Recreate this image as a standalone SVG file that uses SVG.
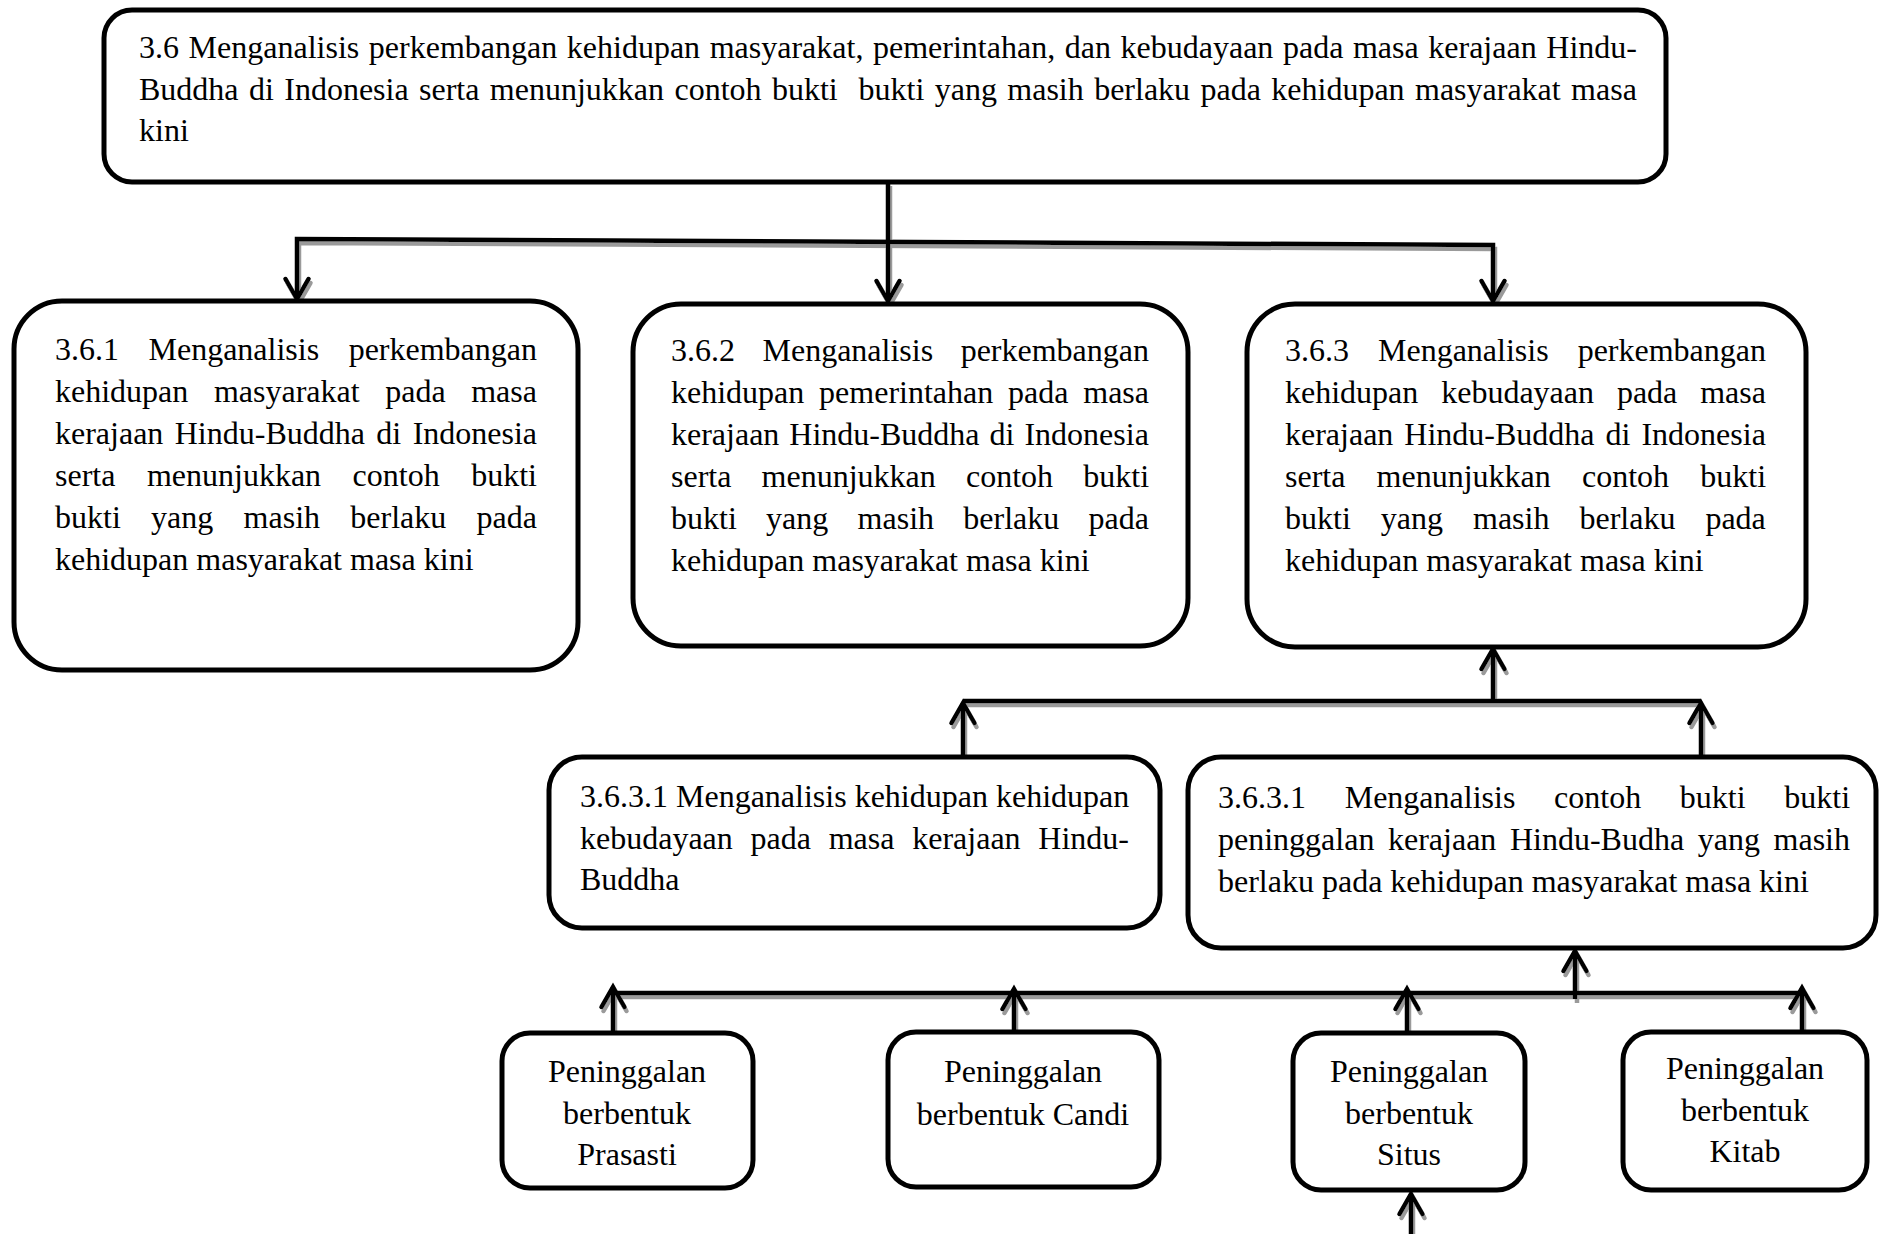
<svg xmlns="http://www.w3.org/2000/svg" width="1880" height="1234" viewBox="0 0 1880 1234">
  <style>
    .box { fill: #fff; stroke: #000; stroke-width: 5; }
    .t { font-family: "Liberation Serif", "Times New Roman", serif; font-size: 32px; fill: #000; }
    .c { text-anchor: middle; }
    .wire { fill: none; stroke: #000; stroke-width: 4.5; }
  </style>
  <defs>
    <!-- open chevron arrowhead, pointing along the path direction -->
    <marker id="head" markerUnits="userSpaceOnUse" viewBox="-26 -16 30 32" refX="0" refY="0"
            markerWidth="30" markerHeight="32" orient="auto-start-reverse" overflow="visible">
      <path d="M-20,-11.5 L0,0 L-20,11.5" fill="none" stroke="#000" stroke-width="4.5"
            stroke-linecap="round" stroke-linejoin="miter"/>
    </marker>
    <!-- soft grey offset shadow under the connector lines -->
    <filter id="shadow" filterUnits="userSpaceOnUse" x="0" y="0" width="1880" height="1234">
      <feOffset in="SourceAlpha" dx="2" dy="4" result="off"/>
      <feFlood flood-color="#9a9a9a"/>
      <feComposite in2="off" operator="in" result="sh"/>
      <feMerge>
        <feMergeNode in="sh"/>
        <feMergeNode in="SourceGraphic"/>
      </feMerge>
    </filter>
  </defs>

  <rect width="1880" height="1234" fill="#fff"/>

  <g id="connectors" filter="url(#shadow)">
    <!-- 3.6 to its three sub-goals -->
    <path class="wire" d="M888,182 L888,301" marker-end="url(#head)"/>
    <path class="wire" d="M297,299 L297,239 L1493,245 L1493,301" marker-start="url(#head)" marker-end="url(#head)"/>
    <!-- 3.6.3.1 pair up to 3.6.3 -->
    <path class="wire" d="M963,701 L1701,701"/>
    <path class="wire" d="M1493,701 L1493,649" marker-end="url(#head)"/>
    <path class="wire" d="M963,757 L963,703" marker-end="url(#head)"/>
    <path class="wire" d="M1701,757 L1701,703" marker-end="url(#head)"/>
    <!-- peninggalan boxes up to the right 3.6.3.1 -->
    <path class="wire" d="M613,993 L1802,993"/>
    <path class="wire" d="M1575,999 L1575,951" marker-end="url(#head)"/>
    <path class="wire" d="M613,1033 L613,987" marker-end="url(#head)"/>
    <path class="wire" d="M1014,1032 L1014,989" marker-end="url(#head)"/>
    <path class="wire" d="M1407,1033 L1407,989" marker-end="url(#head)"/>
    <path class="wire" d="M1802,1032 L1802,988" marker-end="url(#head)"/>
    <path class="wire" d="M1411,1234 L1411,1194" marker-end="url(#head)"/>
  </g>

  <g id="node-3-6">
    <rect class="box" x="104" y="10" width="1562" height="172" rx="28"/>
    <text class="t" x="139" y="58" word-spacing="1.6">3.6 Menganalisis perkembangan kehidupan masyarakat, pemerintahan, dan kebudayaan pada masa kerajaan Hindu-</text>
    <text class="t" x="139" y="100" word-spacing="2.4">Buddha di Indonesia serta menunjukkan contoh bukti&#160; bukti yang masih berlaku pada kehidupan masyarakat masa</text>
    <text class="t" x="139" y="141">kini</text>
  </g>

  <g id="node-3-6-1">
    <rect class="box" x="14" y="301" width="564" height="369" rx="48"/>
    <text class="t" x="55" y="360" word-spacing="21.5">3.6.1 Menganalisis perkembangan</text>
    <text class="t" x="55" y="402" word-spacing="17.6">kehidupan masyarakat pada masa</text>
    <text class="t" x="55" y="444" word-spacing="3.4">kerajaan Hindu-Buddha di Indonesia</text>
    <text class="t" x="55" y="486" word-spacing="23.5">serta menunjukkan contoh bukti</text>
    <text class="t" x="55" y="528" word-spacing="22.3">bukti yang masih berlaku pada</text>
    <text class="t" x="55" y="570">kehidupan masyarakat masa kini</text>
  </g>

  <g id="node-3-6-2">
    <rect class="box" x="633" y="304" width="555" height="342" rx="48"/>
    <text class="t" x="671" y="361" word-spacing="19.5">3.6.2 Menganalisis perkembangan</text>
    <text class="t" x="671" y="403" word-spacing="6.8">kehidupan pemerintahan pada masa</text>
    <text class="t" x="671" y="445" word-spacing="2">kerajaan Hindu-Buddha di Indonesia</text>
    <text class="t" x="671" y="487" word-spacing="22.2">serta menunjukkan contoh bukti</text>
    <text class="t" x="671" y="529" word-spacing="21.3">bukti yang masih berlaku pada</text>
    <text class="t" x="671" y="571">kehidupan masyarakat masa kini</text>
  </g>

  <g id="node-3-6-3">
    <rect class="box" x="1247" y="304" width="559" height="343" rx="48"/>
    <text class="t" x="1285" y="361" word-spacing="21">3.6.3 Menganalisis perkembangan</text>
    <text class="t" x="1285" y="403" word-spacing="14.9">kehidupan kebudayaan pada masa</text>
    <text class="t" x="1285" y="445" word-spacing="3">kerajaan Hindu-Buddha di Indonesia</text>
    <text class="t" x="1285" y="487" word-spacing="23.2">serta menunjukkan contoh bukti</text>
    <text class="t" x="1285" y="529" word-spacing="22">bukti yang masih berlaku pada</text>
    <text class="t" x="1285" y="571">kehidupan masyarakat masa kini</text>
  </g>

  <g id="node-3-6-3-1-budaya">
    <rect class="box" x="549" y="757" width="611" height="171" rx="33"/>
    <text class="t" x="580" y="807">3.6.3.1 Menganalisis kehidupan kehidupan</text>
    <text class="t" x="580" y="849" word-spacing="9.75">kebudayaan pada masa kerajaan Hindu-</text>
    <text class="t" x="580" y="890">Buddha</text>
  </g>

  <g id="node-3-6-3-1-bukti">
    <rect class="box" x="1188" y="757" width="688" height="191" rx="33"/>
    <text class="t" x="1218" y="808" word-spacing="30.7">3.6.3.1 Menganalisis contoh bukti bukti</text>
    <text class="t" x="1218" y="850" word-spacing="5.6">peninggalan kerajaan Hindu-Budha yang masih</text>
    <text class="t" x="1218" y="892">berlaku pada kehidupan masyarakat masa kini</text>
  </g>

  <g id="node-prasasti">
    <rect class="box" x="502" y="1033" width="251" height="155" rx="28"/>
    <text class="t c" x="627" y="1082">Peninggalan</text>
    <text class="t c" x="627" y="1124">berbentuk</text>
    <text class="t c" x="627" y="1165">Prasasti</text>
  </g>

  <g id="node-candi">
    <rect class="box" x="888" y="1032" width="271" height="155" rx="28"/>
    <text class="t c" x="1023" y="1082">Peninggalan</text>
    <text class="t c" x="1023" y="1125">berbentuk Candi</text>
  </g>

  <g id="node-situs">
    <rect class="box" x="1293" y="1033" width="232" height="157" rx="28"/>
    <text class="t c" x="1409" y="1082">Peninggalan</text>
    <text class="t c" x="1409" y="1124">berbentuk</text>
    <text class="t c" x="1409" y="1165">Situs</text>
  </g>

  <g id="node-kitab">
    <rect class="box" x="1623" y="1032" width="244" height="158" rx="28"/>
    <text class="t c" x="1745" y="1079">Peninggalan</text>
    <text class="t c" x="1745" y="1121">berbentuk</text>
    <text class="t c" x="1745" y="1162">Kitab</text>
  </g>
</svg>
